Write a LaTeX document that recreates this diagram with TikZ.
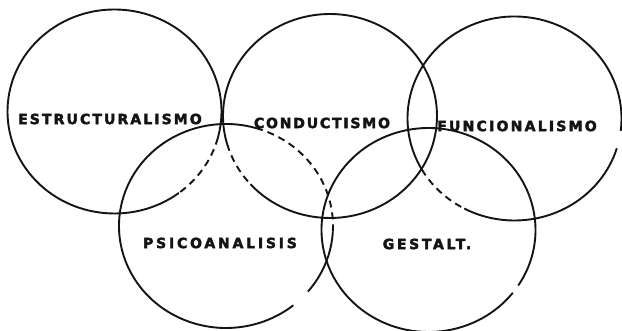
\documentclass[tikz,border=0pt]{standalone}
\usepackage{fontspec}
\usepackage{tikz}
\newfontfamily\heavy[BoldFeatures={FakeBold=3}]{DejaVu Sans}
\definecolor{ink}{HTML}{141414}

\begin{document}
\begin{tikzpicture}[x=1pt,y=1pt,
  ring/.style={draw=ink,line width=1.9pt,x radius=107pt,y radius=102pt},
  broken/.style={ring,dash pattern=on 7pt off 5pt},
  lbl/.style={inner sep=0pt,text=ink,font=\heavy\bfseries\fontsize{14}{15}\selectfont\addfontfeature{LetterSpace=#1}}]
\useasboundingbox (0,0) rectangle (622,331);
% centres of the five schools
\coordinate (est) at (114.5,219.5);
\coordinate (cond) at (330,215);
\coordinate (func) at (514.5,212.5);
\coordinate (psic) at (226,105);
\coordinate (gest) at (428.5,101);
% rings
\draw[ring] ([shift={(-53:107pt and 102pt)}]est) arc[start angle=-53,end angle=-375];
\draw[broken] ([shift={(-15:107pt and 102pt)}]est) arc[start angle=-15,end angle=-53];
\draw[ring] ([shift={(222:107pt and 102pt)}]cond) arc[start angle=222,end angle=556];
\draw[broken] ([shift={(196:107pt and 102pt)}]cond) arc[start angle=196,end angle=222];
\draw[ring] ([shift={(-7:107pt and 102pt)}]func) arc[start angle=-7,end angle=210];
\draw[broken] ([shift={(210:107pt and 102pt)}]func) arc[start angle=210,end angle=242];
\draw[ring] ([shift={(242:107pt and 102pt)}]func) arc[start angle=242,end angle=343];
\draw[ring] ([shift={(70:107pt and 102pt)}]psic) arc[start angle=70,end angle=309];
\draw[ring] ([shift={(320:107pt and 102pt)}]psic) arc[start angle=320,end angle=357];
\draw[broken] ([shift={(357:107pt and 102pt)}]psic) arc[start angle=357,end angle=430];
\draw[ring] ([shift={(-33:107pt and 102pt)}]gest) arc[start angle=-33,end angle=322];
% names
\node[lbl=15] (estl) at (110,212) {ESTRUCTURALISMO};
\node[lbl=13] (condl) at (322,208) {CONDUCTISMO};
\node[lbl=16] (funcl) at (517,205) {FUNCIONALISMO};
\node[lbl=20] (psicl) at (220,88) {PSICOANALISIS};
\node[lbl=19] (gestl) at (427,87) {GESTALT.};
\end{tikzpicture}
\end{document}
